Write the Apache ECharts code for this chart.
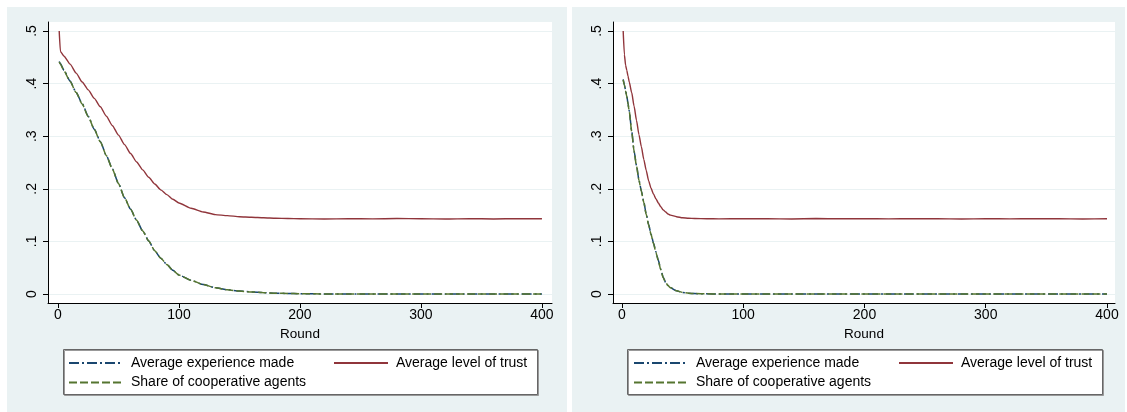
<!DOCTYPE html>
<html>
<head>
<meta charset="utf-8">
<script src="https://cdn.jsdelivr.net/npm/echarts@6/dist/echarts.min.js"></script>
<style>html,body{margin:0;padding:0;background:#fff;}#c{width:1127px;height:412px;}</style>
</head>
<body>
<div id="c"></div>
<script>
// ---- data ----
const xTicks = [0, 100, 200, 300, 400];
const yTicks = [0, 0.1, 0.2, 0.3, 0.4, 0.5];
const seriesNames = ['Average experience made', 'Average level of trust', 'Share of cooperative agents'];

const leftRounds = [1,2,5,10,15,20,25,30,35,40,45,50,55,60,65,70,75,80,85,90,95,100,110,120,130,140,150,160,170,180,190,200,220,240,260,280,300,320,340,360,380,400];
const leftTrust = [0.500,0.461,0.452,0.437,0.420,0.403,0.388,0.372,0.356,0.338,0.320,0.302,0.284,0.267,0.251,0.236,0.222,0.209,0.198,0.189,0.180,0.173,0.163,0.156,0.151,0.149,0.147,0.146,0.145,0.144,0.1435,0.143,0.1425,0.1432,0.1428,0.1435,0.1430,0.1425,0.1433,0.1427,0.1432,0.1430];
const leftExperience = [0.442,0.438,0.425,0.405,0.383,0.362,0.338,0.313,0.290,0.263,0.238,0.210,0.183,0.161,0.140,0.120,0.101,0.082,0.068,0.056,0.045,0.036,0.026,0.018,0.012,0.008,0.0055,0.004,0.0025,0.0015,0.001,0.0005,0.0002,0,0,0,0,0,0,0,0,0];
const leftShare = [0.441,0.437,0.424,0.404,0.383,0.361,0.337,0.313,0.289,0.263,0.237,0.210,0.183,0.161,0.140,0.120,0.101,0.082,0.068,0.056,0.045,0.036,0.026,0.018,0.012,0.008,0.0055,0.004,0.0025,0.0015,0.001,0.0005,0.0002,0,0,0,0,0,0,0,0,0];

const rightRounds = [1,2,3,4,5,6,8,10,12,14,16,18,20,22,24,26,28,30,32,34,36,38,40,45,50,55,60,70,80,100,120,140,160,180,200,220,240,260,280,300,320,340,360,380,400];
const rightTrust = [0.500,0.455,0.435,0.425,0.414,0.403,0.383,0.357,0.330,0.303,0.280,0.256,0.235,0.215,0.201,0.190,0.181,0.173,0.166,0.160,0.156,0.152,0.150,0.147,0.145,0.144,0.1435,0.1432,0.1428,0.1433,0.1430,0.1427,0.1434,0.1430,0.1432,0.1428,0.1433,0.1430,0.1426,0.1432,0.1429,0.1433,0.1430,0.1427,0.1431];
const rightExperience = [0.408,0.398,0.387,0.376,0.362,0.348,0.310,0.272,0.244,0.217,0.196,0.175,0.152,0.132,0.114,0.097,0.080,0.064,0.047,0.032,0.022,0.016,0.012,0.006,0.003,0.0015,0.0008,0.0003,0,0,0,0,0,0,0,0,0,0,0,0,0,0,0,0,0];
const rightShare = [0.407,0.397,0.386,0.375,0.361,0.347,0.309,0.271,0.243,0.216,0.195,0.174,0.151,0.131,0.113,0.096,0.079,0.063,0.046,0.031,0.022,0.016,0.012,0.006,0.003,0.0015,0.0008,0.0003,0,0,0,0,0,0,0,0,0,0,0,0,0,0,0,0,0];

// ---- styling ----
const BG = '#EAF2F3';
const NAVY = '#1A476F', MAROON = '#90353B', GREEN = '#55752F';
const FONT = 'Liberation Sans, Arial, sans-serif';

function pairs(xs, ys) { return xs.map((x, i) => [x, ys[i]]); }
function yFmt(v) { if (Math.abs(v) < 1e-9) return '0'; return ('' + (+v.toFixed(1))).replace(/^0/, ''); }

function xAxisFor(gi, min, max) {
  return {
    type: 'value', gridIndex: gi, min: min, max: max,
    name: 'Round', nameLocation: 'middle', nameGap: 24,
    nameTextStyle: { color: '#000', fontSize: 13.5, fontFamily: FONT },
    axisLine: { show: true, onZero: false, lineStyle: { color: '#000', width: 1 } },
    axisTick: { show: true, length: 5, customValues: xTicks, lineStyle: { color: '#000' } },
    axisLabel: { customValues: xTicks, color: '#000', fontSize: 14, fontFamily: FONT, margin: 5 },
    splitLine: { show: false }
  };
}
function yAxisFor(gi) {
  return {
    type: 'value', gridIndex: gi, min: -0.0171, max: 0.5171,
    axisLine: { show: true, onZero: false, lineStyle: { color: '#000', width: 1 } },
    axisTick: { show: true, length: 5, customValues: yTicks, lineStyle: { color: '#000' } },
    axisLabel: { customValues: yTicks, rotate: 90, color: '#000', fontSize: 14, fontFamily: FONT, margin: 9, formatter: yFmt },
    splitLine: { show: true, lineStyle: { color: BG, width: 1.2 } }
  };
}
function linesFor(gi, rounds, exp, trust, share) {
  const base = { type: 'line', xAxisIndex: gi, yAxisIndex: gi, symbol: 'none', showSymbol: false, silent: true, smooth: 0.2, smoothMonotone: 'x' };
  return [
    Object.assign({}, base, { name: seriesNames[0], data: pairs(rounds, exp), lineStyle: { color: NAVY, width: 1.5, type: [10, 3, 2, 3] }, itemStyle: { color: NAVY } }),
    Object.assign({}, base, { name: seriesNames[1], data: pairs(rounds, trust), lineStyle: { color: MAROON, width: 1.4, type: 'solid' }, itemStyle: { color: MAROON } }),
    Object.assign({}, base, { name: seriesNames[2], data: pairs(rounds, share), lineStyle: { color: GREEN, width: 1.5, type: [8, 3] }, itemStyle: { color: GREEN } })
  ];
}
function legendFor(left, names) {
  return {
    left: left, top: 356, orient: 'vertical', itemWidth: 54, itemHeight: 14, itemGap: 5.6,
    data: names, selectedMode: false, padding: 0,
    itemStyle: { opacity: 0 },
    textStyle: { color: '#000', fontSize: 14, fontFamily: FONT, padding: [0, 0, 0, 3] }
  };
}

const chart = echarts.init(document.getElementById('c'), null, { renderer: 'canvas' });
chart.setOption({
  animation: false,
  backgroundColor: '#fff',
  graphic: [
    { type: 'rect', z: -10, shape: { x: 7, y: 7, width: 560, height: 405 }, style: { fill: BG } },
    { type: 'rect', z: -10, shape: { x: 572, y: 7, width: 553, height: 405 }, style: { fill: BG } },
    { type: 'rect', z: -5, shape: { x: 63.5, y: 349.5, width: 474, height: 45 }, style: { fill: '#fff', stroke: '#666', lineWidth: 1, shadowColor: '#999', shadowOffsetX: 1, shadowOffsetY: 1 } },
    { type: 'rect', z: -5, shape: { x: 627.5, y: 349.5, width: 475, height: 45 }, style: { fill: '#fff', stroke: '#666', lineWidth: 1, shadowColor: '#999', shadowOffsetX: 1, shadowOffsetY: 1 } }
  ],
  grid: [
    { left: 48, top: 22, width: 504, height: 281, show: true, backgroundColor: '#fff', borderWidth: 0 },
    { left: 613, top: 22, width: 502, height: 281, show: true, backgroundColor: '#fff', borderWidth: 0 }
  ],
  xAxis: [ xAxisFor(0, -8.26, 408.3), xAxisFor(1, -7.4, 406.6) ],
  yAxis: [ yAxisFor(0), yAxisFor(1) ],
  legend: [
    legendFor(68, [seriesNames[0], seriesNames[2]]),
    legendFor(333, [seriesNames[1]]),
    legendFor(633, [seriesNames[0], seriesNames[2]]),
    legendFor(898, [seriesNames[1]])
  ],
  series: [].concat(
    linesFor(0, leftRounds, leftExperience, leftTrust, leftShare),
    linesFor(1, rightRounds, rightExperience, rightTrust, rightShare)
  )
});
</script>
</body>
</html>
